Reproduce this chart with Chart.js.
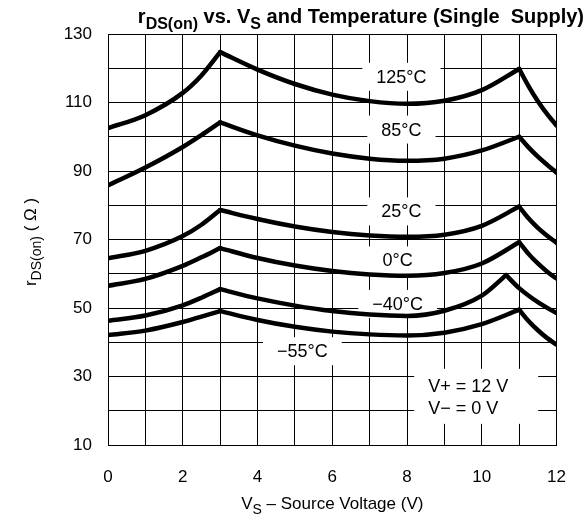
<!DOCTYPE html>
<html>
<head>
<meta charset="utf-8">
<script src="https://cdn.jsdelivr.net/npm/chart.js@4.4.1/dist/chart.umd.min.js"></script>
<style>
  html, body { margin: 0; padding: 0; background: #fff; }
  #wrap { width: 588px; height: 525px; }
</style>
</head>
<body>
<div id="wrap"><canvas id="rds"></canvas></div>
<script>
// source voltage points (V); -40 C peaks a bit earlier
const xCommon  = [0, 1, 2, 2.5, 3, 4, 5, 6, 7, 8, 9, 10, 11, 11.25, 11.5, 11.75, 12];
const xMinus40 = [0, 1, 2, 2.5, 3, 4, 5, 6, 7, 8, 9, 10, 10.65, 11, 11.5, 12];

// rDS(on) in ohms
const r125  = [102.5, 106.3, 112.8, 117.9, 124.7, 119.6, 115.4, 112.3, 110.4, 109.6, 110.5, 113.6, 119.8, 114.8, 110.4, 106.6, 103.3];
const r85   = [85.8, 91, 97, 100.5, 104.2, 100.4, 97.4, 95.1, 93.6, 93, 93.6, 96, 100, 96.9, 94.2, 91.8, 89.5];
const r25   = [64.5, 66.7, 71, 74.3, 78.6, 76, 73.8, 72.2, 71.2, 70.8, 71.4, 74, 79.6, 76.2, 73.4, 71.1, 69];
const r0    = [56.5, 58.5, 62.3, 64.8, 67.5, 64.6, 62.4, 60.8, 59.8, 59.4, 60.2, 63, 69.2, 65.8, 63, 60.6, 58.6];
const rM40  = [46.3, 47.8, 50.8, 53, 55.5, 52.8, 50.7, 49.1, 48.1, 47.7, 49.2, 53.6, 59.6, 55.8, 51.7, 48.5];
const rM55  = [42.1, 43.4, 45.9, 47.5, 49.1, 46.5, 44.5, 43.1, 42.3, 42, 42.8, 45.3, 49.5, 46.2, 43.5, 41.2, 39.3];

const xTickLabels = [0, 2, 4, 6, 8, 10, 12];
const yTickLabels = [10, 30, 50, 70, 90, 110, 130];
const tempLabels  = ['125°C', '85°C', '25°C', '0°C', '−40°C', '−55°C'];
const labelAt     = [[7.85, 117.5], [7.85, 102.1], [7.85, 78.2], [7.75, 63.9], [7.75, 51.2], [5.2, 37.4]];

const series = [
  [xCommon, r125], [xCommon, r85], [xCommon, r25],
  [xCommon, r0], [xMinus40, rM40], [xCommon, rM55]
];

// each curve is split at its two kinks so they stay sharp
const breaks = [4, 12];
const datasets = [];
series.forEach(([xs, ys]) => {
  const pts = xs.map((x, i) => ({ x: x, y: ys[i] }));
  const cuts = [0, ...breaks, pts.length - 1];
  for (let k = 0; k < cuts.length - 1; k++) {
    datasets.push({
      data: pts.slice(cuts[k], cuts[k + 1] + 1),
      borderColor: '#000',
      borderWidth: 4.5,
      borderCapStyle: 'round',
      pointRadius: 0,
      tension: 0.4,
      cubicInterpolationMode: 'monotone',
      fill: false
    });
  }
});

const FONT = '"Liberation Sans", Arial, sans-serif';

// draw text with subscript parts: parts = [[text, isSub], ...]
function measureParts(ctx, parts, size, weight) {
  let w = 0;
  parts.forEach(([t, sub]) => {
    ctx.font = weight + ' ' + (sub ? Math.round(size * 0.8) : size) + 'px ' + FONT;
    w += ctx.measureText(t).width;
  });
  return w;
}
function drawParts(ctx, parts, x, y, size, weight) {
  parts.forEach(([t, sub]) => {
    ctx.font = weight + ' ' + (sub ? Math.round(size * 0.8) : size) + 'px ' + FONT;
    ctx.fillText(t, x, sub ? y + size * 0.3 : y);
    x += ctx.measureText(t).width;
  });
}

const labelBoxes = {
  id: 'labelBoxes',
  beforeDatasetsDraw(chart) {
    const { ctx, scales: { x, y } } = chart;
    ctx.save();
    ctx.font = '18px ' + FONT;
    ctx.textAlign = 'center';
    ctx.textBaseline = 'middle';
    tempLabels.forEach((t, i) => {
      const px = x.getPixelForValue(labelAt[i][0]);
      const py = y.getPixelForValue(labelAt[i][1]);
      const w = ctx.measureText(t).width + 28;
      ctx.fillStyle = '#fff';
      ctx.fillRect(px - w / 2, py - 14, w, 28);
      ctx.fillStyle = '#000';
      ctx.fillText(t, px, py + 1);
    });
    // supply note
    const bx = x.getPixelForValue(9.85), by = y.getPixelForValue(24.35);
    ctx.fillStyle = '#fff';
    ctx.fillRect(bx - 62, by - 27, 124, 55);
    ctx.fillStyle = '#000';
    ctx.textAlign = 'left';
    ctx.fillText('V+ = 12 V', bx - 48, by - 9);
    ctx.fillText('V− = 0 V', bx - 48, by + 13);
    ctx.restore();
  }
};

const titles = {
  id: 'titles',
  afterDraw(chart) {
    const { ctx, chartArea } = chart;
    ctx.save();
    ctx.fillStyle = '#000';
    ctx.textBaseline = 'alphabetic';
    ctx.textAlign = 'left';

    const head = [['r', false], ['DS(on)', true], [' vs. V', false], ['S', true], [' and Temperature (Single  Supply)', false]];
    const hw = measureParts(ctx, head, 20, 'bold');
    drawParts(ctx, head, 584 - hw, 23, 20, 'bold');

    const xt = [['V', false], ['S', true], [' – Source Voltage (V)', false]];
    const xw = measureParts(ctx, xt, 17, 'normal');
    drawParts(ctx, xt, (chartArea.left + chartArea.right) / 2 - xw / 2, 509, 17, 'normal');

    const yt = [['r', false], ['DS(on)', true], [' ( Ω )', false]];
    const yw = measureParts(ctx, yt, 17, 'normal');
    ctx.translate(36, 242);
    ctx.rotate(-Math.PI / 2);
    drawParts(ctx, yt, -yw / 2, 0, 17, 'normal');
    ctx.restore();
  }
};

new Chart(document.getElementById('rds'), {
  type: 'line',
  data: { datasets: datasets },
  options: {
    responsive: true,
    maintainAspectRatio: false,
    animation: false,
    layout: { padding: { top: 34, right: 21, left: 0, bottom: 0 } },
    plugins: { legend: { display: false }, tooltip: { enabled: false } },
    scales: {
      x: {
        type: 'linear',
        min: 0, max: 12,
        afterFit: (s) => { s.height = 80; },
        grid: { color: '#000', lineWidth: 1, drawTicks: false },
        border: { color: '#000', width: 1 },
        ticks: {
          stepSize: 1, autoSkip: false, maxRotation: 0, padding: 22,
          color: '#000', font: { family: FONT, size: 17 },
          callback: (v) => xTickLabels.includes(v) ? String(v) : ''
        }
      },
      y: {
        min: 10, max: 130,
        afterFit: (s) => { s.width = 108; },
        grid: { color: '#000', lineWidth: 1, drawTicks: false },
        border: { color: '#000', width: 1 },
        ticks: {
          stepSize: 10, autoSkip: false, padding: 16,
          color: '#000', font: { family: FONT, size: 17 },
          callback: (v) => yTickLabels.includes(v) ? String(v) : ''
        }
      }
    }
  },
  plugins: [labelBoxes, titles]
});
</script>
</body>
</html>
